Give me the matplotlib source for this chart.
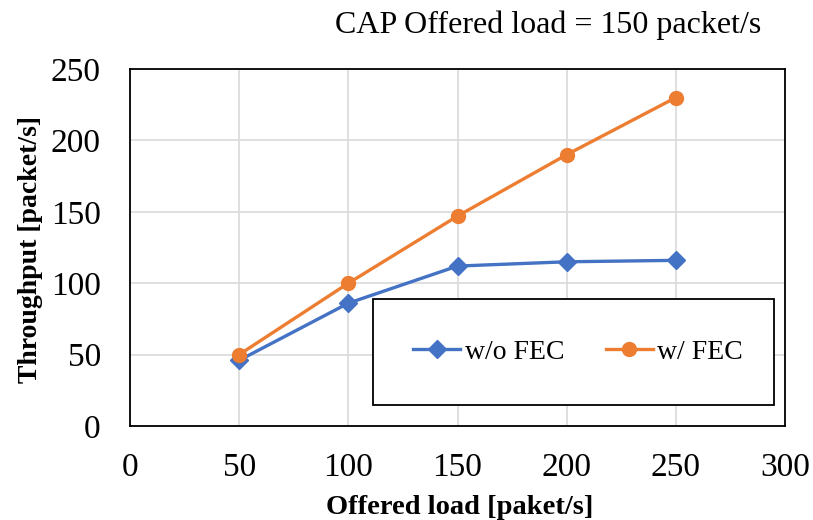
import matplotlib
matplotlib.use("Agg")
import matplotlib.pyplot as plt
from matplotlib.patches import Rectangle

# ── Data ─────────────────────────────────────────────────────────────────── #
offered_load = [50, 100, 150, 200, 250]
tp_without_fec = [46, 86, 112, 115, 116]
tp_with_fec = [50, 100, 147, 190, 230]

x_ticks = [0, 50, 100, 150, 200, 250, 300]
y_ticks = [0, 50, 100, 150, 200, 250]

BLUE = "#4472C4"
ORANGE = "#ED7D31"

plt.rcParams.update({
    "font.family": ["Liberation Serif", "DejaVu Serif"],
})

fig = plt.figure(figsize=(8.13, 5.2), dpi=100)
ax = fig.add_axes([130 / 813, 94 / 520, 655 / 813, 357 / 520])

ax.plot(offered_load, tp_without_fec, color=BLUE, lw=2.4, marker="D",
        markersize=9, label="w/o FEC", zorder=3)
ax.plot(offered_load, tp_with_fec, color=ORANGE, lw=2.4, marker="o",
        markersize=10, label="w/ FEC", zorder=3)

ax.set_xlim(0, 300)
ax.set_ylim(0, 250)
ax.set_xticks(x_ticks)
ax.set_yticks(y_ticks)
ax.tick_params(length=0, labelsize=24)
ax.tick_params(axis="x", pad=19)
ax.tick_params(axis="y", pad=21)
ax.grid(True, color="#d9d9d9", lw=1.2)
ax.set_axisbelow(True)
for sp in ax.spines.values():
    sp.set_linewidth(1.3)
    sp.set_color("black")

# axis titles and chart heading
fig.text(460 / 813, 1 - 508 / 520, "Offered load [paket/s]",
         fontsize=20.5, fontweight="bold", ha="center", va="center")
fig.text(31 / 813, 1 - 249 / 520, "Throughput [packet/s]",
         fontsize=20, fontweight="bold", ha="center", va="center",
         rotation=90)
fig.text(548 / 813, 1 - 25 / 520, "CAP Offered load = 150 packet/s",
         fontsize=23, ha="center", va="center")

# legend with a plain black frame
box = Rectangle((243 / 655, 21 / 357), 401 / 655, 106 / 357,
                transform=ax.transAxes, facecolor="white", edgecolor="black",
                lw=1.3, zorder=4)
ax.add_patch(box)
leg = ax.legend(loc="center", bbox_to_anchor=(448 / 655, 74 / 357), ncol=2,
                frameon=False, fontsize=20, handlelength=1.7,
                handletextpad=0.15, columnspacing=1.5)
leg.set_zorder(5)

fig.savefig("out.png", dpi=100)
